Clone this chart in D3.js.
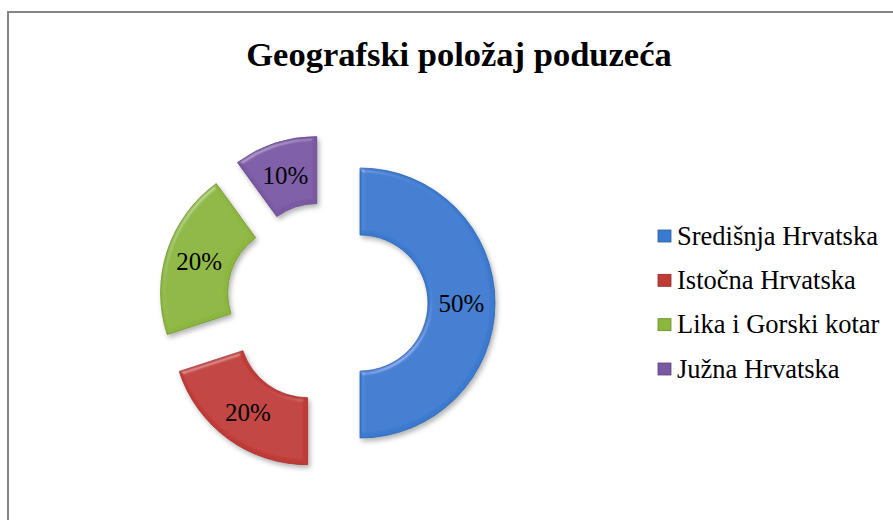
<!DOCTYPE html>
<html>
<head>
  <meta charset="utf-8">
  <title>Geografski položaj poduzeća</title>
  <script src="https://cdn.jsdelivr.net/npm/d3@7"></script>
  <style>
    body { margin: 0; background: #fff; }
    text { font-family: "Liberation Serif", "Times New Roman", serif; }
  </style>
</head>
<body>
  <svg width="893" height="520" id="mainsvg"></svg>
  <script>
    // data
    const categories = ['Središnja Hrvatska', 'Istočna Hrvatska', 'Lika i Gorski kotar', 'Južna Hrvatska'];
    const shares = [50, 20, 20, 10];
    const colors = ['#3a7ad0', '#c03a37', '#8cb63c', '#7a58a4'];
    const title = 'Geografski položaj poduzeća';

    const svg = d3.select('#mainsvg');

    // bevel + shadow filter
    const defs = svg.append('defs');
    const f = defs.append('filter').attr('id', 'bevel')
      .attr('x', '-20%').attr('y', '-20%').attr('width', '140%').attr('height', '140%');
    f.append('feGaussianBlur').attr('in', 'SourceAlpha').attr('stdDeviation', 2).attr('result', 'blur');
    f.append('feSpecularLighting').attr('in', 'blur').attr('surfaceScale', 3)
      .attr('specularConstant', 0.22).attr('specularExponent', 25)
      .attr('lighting-color', '#ffffff').attr('result', 'spec')
      .append('feDistantLight').attr('azimuth', 235).attr('elevation', 40);
    f.append('feComposite').attr('in', 'spec').attr('in2', 'SourceAlpha').attr('operator', 'in').attr('result', 'specIn');
    f.append('feComposite').attr('in', 'SourceGraphic').attr('in2', 'specIn').attr('operator', 'arithmetic')
      .attr('k1', 0).attr('k2', 1).attr('k3', 1).attr('k4', 0).attr('result', 'lit');
    f.append('feGaussianBlur').attr('in', 'SourceAlpha').attr('stdDeviation', 2.5).attr('result', 'sblur');
    f.append('feOffset').attr('in', 'sblur').attr('dx', 2).attr('dy', 3).attr('result', 'soff');
    f.append('feFlood').attr('flood-color', '#000').attr('flood-opacity', 0.3).attr('result', 'sfl');
    f.append('feComposite').attr('in', 'sfl').attr('in2', 'soff').attr('operator', 'in').attr('result', 'shadow');
    const merge = f.append('feMerge');
    merge.append('feMergeNode').attr('in', 'shadow');
    merge.append('feMergeNode').attr('in', 'lit');

    // chart frame
    svg.append('rect').attr('x', 8).attr('y', 12).attr('width', 900).attr('height', 520)
      .attr('fill', 'none').attr('stroke', '#858585').attr('stroke-width', 2);

    svg.append('text').attr('x', 459).attr('y', 66).attr('text-anchor', 'middle')
      .attr('font-size', '34.5px').attr('font-weight', 'bold').attr('fill', '#000')
      .text(title);

    // doughnut
    const cx = 327, cy = 303, innerR = 68, outerR = 135, explode = 33;
    const pie = d3.pie().value(d => d).sort(null).startAngle(0).endAngle(2 * Math.PI);
    const arc = d3.arc().innerRadius(innerR).outerRadius(outerR);
    const arcs = pie(shares);
    const midAngle = d => (d.startAngle + d.endAngle) / 2;
    const offset = d => [Math.sin(midAngle(d)) * explode, -Math.cos(midAngle(d)) * explode];

    const pieGroup = svg.append('g').attr('transform', `translate(${cx}, ${cy})`);
    const slices = pieGroup.selectAll('g.slice').data(arcs).join('g').attr('class', 'slice')
      .attr('transform', d => `translate(${offset(d)[0]}, ${offset(d)[1]})`);
    slices.append('path').attr('d', arc)
      .attr('fill', (d, i) => colors[i])
      .attr('stroke', (d, i) => d3.color(colors[i]).darker(0.6))
      .attr('stroke-width', 0.8)
      .attr('filter', 'url(#bevel)');
    slices.append('text')
      .attr('transform', d => `translate(${arc.centroid(d)})`)
      .attr('text-anchor', 'middle').attr('dy', '0.35em')
      .attr('font-size', '25px').attr('fill', '#000')
      .text(d => d.data + '%');

    // legend
    const legendY = d3.scalePoint().domain(categories).range([236, 369]);
    const legend = svg.append('g');
    const items = legend.selectAll('g').data(categories).join('g')
      .attr('transform', d => `translate(658, ${legendY(d)})`);
    items.append('rect').attr('x', 0).attr('y', -6).attr('width', 13).attr('height', 12)
      .attr('fill', (d, i) => colors[i])
      .attr('stroke', (d, i) => d3.color(colors[i]).darker(0.8)).attr('stroke-width', 0.8);
    items.append('text').attr('x', 19).attr('dy', '0.33em')
      .attr('font-size', '26.5px').attr('fill', '#000')
      .text(d => d);
  </script>
</body>
</html>
